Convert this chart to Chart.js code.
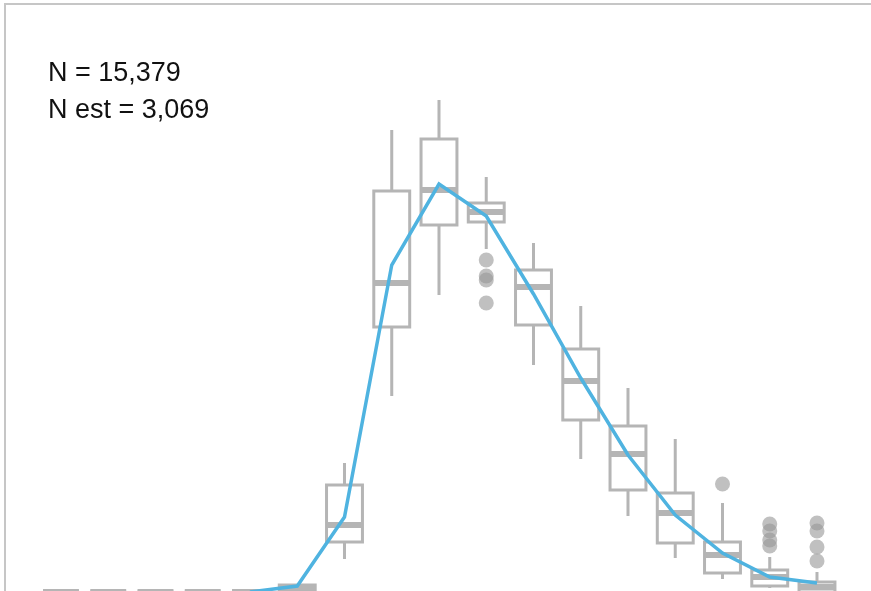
<!DOCTYPE html>
<html>
<head>
<meta charset="utf-8">
<script src="https://cdn.jsdelivr.net/npm/chart.js@4/dist/chart.umd.min.js"></script>
<style>
  html, body { margin: 0; padding: 0; background: #fff; overflow: hidden; }
  canvas { display: block; }
</style>
</head>
<body>
<canvas id="chart" width="871" height="592"></canvas>
<script>
// Size bins along the x axis
const bins = [1, 2, 3, 4, 5, 6, 7, 8, 9, 10, 11, 12, 13, 14, 15, 16, 17];

// Box plot summary per bin
const whiskerLow  = [0, 0, 0, 0, 0, 0,  33, 196, 297, 343, 227, 133,  76, 34, 13,  4,  0];
const q1          = [0, 0, 0, 0, 0, 0,  50, 265, 367, 370, 267, 172, 102, 49, 19,  6,  0];
const median      = [0, 0, 0, 0, 0, 3,  67, 309, 402, 380, 305, 211, 138, 79, 37, 15,  5];
const q3          = [0, 0, 0, 0, 0, 7, 107, 401, 453, 389, 322, 243, 166, 99, 50, 22, 10];
const whiskerHigh = [0, 0, 0, 0, 0, 7, 129, 462, 492, 415, 349, 286, 204, 153, 89, 35, 20];

// Points beyond the whiskers, per bin
const outliers = [
  [], [], [], [], [], [], [], [], [],
  [332, 316, 312, 289],
  [], [], [], [],
  [108],
  [68, 61, 52, 46],
  [69, 61, 45, 31]
];

// Fitted estimate per bin (null where no estimate exists)
const estimate = [null, null, null, null, 0, 6, 75, 327, 408, 376, 298, 214, 137, 77, 39, 15, 9];

const summaryLines = ['N = 15,379', 'N est = 3,069'];

const outlierPoints = [];
outliers.forEach((vals, i) => vals.forEach(v => outlierPoints.push({ x: bins[i], y: v })));

const BOX_COLOR = '#b5b5b5';

// Draws boxes, medians and whiskers underneath the datasets
const boxPlotPlugin = {
  id: 'boxPlot',
  beforeDatasetsDraw(chart) {
    const { ctx, scales: { x, y } } = chart;
    const halfW = 0.38 * (x.getPixelForValue(bins[1]) - x.getPixelForValue(bins[0]));
    ctx.save();
    ctx.strokeStyle = BOX_COLOR;
    ctx.lineCap = 'butt';
    bins.forEach((b, i) => {
      const cx = x.getPixelForValue(b);
      const yLo = y.getPixelForValue(whiskerLow[i]);
      const yQ1 = y.getPixelForValue(q1[i]);
      const yMed = y.getPixelForValue(median[i]);
      const yQ3 = y.getPixelForValue(q3[i]);
      const yHi = y.getPixelForValue(whiskerHigh[i]);
      // whiskers
      ctx.lineWidth = 3;
      ctx.beginPath();
      ctx.moveTo(cx, yQ3); ctx.lineTo(cx, yHi);
      ctx.moveTo(cx, yQ1); ctx.lineTo(cx, yLo);
      ctx.stroke();
      // box
      ctx.strokeRect(cx - halfW, yQ3, 2 * halfW, yQ1 - yQ3);
      // median
      ctx.lineWidth = 6;
      ctx.beginPath();
      ctx.moveTo(cx - halfW, yMed); ctx.lineTo(cx + halfW, yMed);
      ctx.stroke();
    });
    ctx.restore();
  }
};

// Panel frame and sample-size notes
const panelPlugin = {
  id: 'panel',
  beforeDraw(chart) {
    const { ctx, chartArea } = chart;
    ctx.save();
    ctx.strokeStyle = '#c6c6c6';
    ctx.lineWidth = 2;
    ctx.beginPath();
    ctx.moveTo(chartArea.left, chart.height);
    ctx.lineTo(chartArea.left, chartArea.top);
    ctx.lineTo(chart.width, chartArea.top);
    ctx.stroke();
    ctx.restore();
  },
  afterDraw(chart) {
    const { ctx } = chart;
    ctx.save();
    ctx.fillStyle = '#111';
    ctx.font = '27px "Liberation Sans", Arial, sans-serif';
    ctx.textAlign = 'left';
    ctx.textBaseline = 'alphabetic';
    summaryLines.forEach((t, i) => ctx.fillText(t, 48, 81 + i * 37));
    ctx.restore();
  }
};

new Chart(document.getElementById('chart'), {
  data: {
    datasets: [
      {
        type: 'line',
        label: 'Estimate',
        data: bins.map((b, i) => ({ x: b, y: estimate[i] })),
        borderColor: '#4fb3e0',
        borderWidth: 3.5,
        pointRadius: 0,
        tension: 0,
        spanGaps: false,
        order: 0
      },
      {
        type: 'scatter',
        label: 'Outliers',
        data: outlierPoints,
        backgroundColor: 'rgba(150,150,150,0.6)',
        borderWidth: 0,
        pointRadius: 7.5,
        order: 1
      }
    ]
  },
  options: {
    responsive: false,
    animation: false,
    layout: { autoPadding: false, padding: { left: 5, top: 4, right: 0, bottom: 0 } },
    plugins: { legend: { display: false }, tooltip: { enabled: false } },
    scales: {
      x: { type: 'linear', min: -0.185, max: 18.143, display: false },
      y: { type: 'linear', min: 0, max: 588, display: false }
    }
  },
  plugins: [boxPlotPlugin, panelPlugin]
});
</script>
</body>
</html>
